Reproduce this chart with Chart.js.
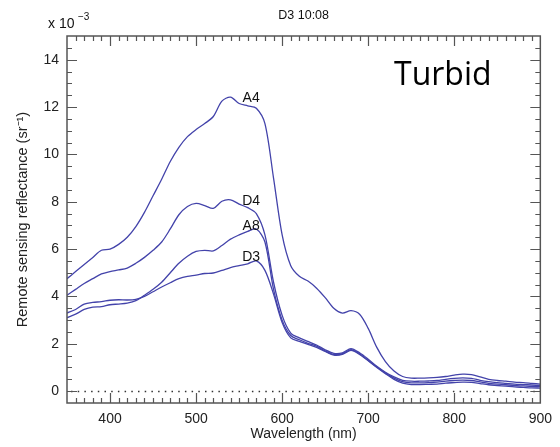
<!DOCTYPE html>
<html>
<head>
<meta charset="utf-8">
<title>D3 10:08</title>
<script src="https://cdn.jsdelivr.net/npm/chart.js@4"></script>
<style>
  html, body { margin: 0; padding: 0; background: #fff; }
  #wrap { width: 560px; height: 447px; }
</style>
</head>
<body>
<div id="wrap"><canvas id="rrsChart" width="560" height="447"></canvas></div>
<script>
// Wavelength (nm) and remote sensing reflectance (x 10^-3 sr^-1)
const wavelength = [350, 360, 370, 380, 390, 400, 410, 420, 430, 440,
                    450, 460, 470, 480, 490, 500, 510, 520, 530, 540,
                    550, 560, 570, 580, 590, 600, 610, 620, 630, 640,
                    650, 660, 670, 680, 690, 700, 710, 720, 730, 740,
                    750, 760, 770, 780, 790, 800, 810, 820, 830, 840,
                    850, 860, 870, 880, 890, 900];

const rrsA4 = [4.75, 5.05, 5.35, 5.65, 5.95, 6.0, 6.2, 6.5, 6.95, 7.55,
               8.25, 8.95, 9.7, 10.3, 10.75, 11.05, 11.3, 11.6, 12.25, 12.42,
               12.15, 12.05, 11.95, 11.3, 9.0, 6.6, 5.3, 4.85, 4.65, 4.35,
               3.95, 3.5, 3.3, 3.4, 3.25, 2.65, 1.85, 1.25, 0.85, 0.62,
               0.55, 0.55, 0.56, 0.58, 0.62, 0.68, 0.72, 0.7, 0.6, 0.5,
               0.45, 0.42, 0.38, 0.36, 0.33, 0.3];

const rrsD4 = [4.05, 4.3, 4.55, 4.75, 4.95, 5.05, 5.12, 5.2, 5.4, 5.65,
               5.95, 6.3, 6.85, 7.45, 7.8, 7.93, 7.84, 7.72, 8.02, 8.08,
               7.9, 7.75, 7.5, 6.6, 4.6, 3.2, 2.45, 2.25, 2.1, 1.95,
               1.75, 1.6, 1.62, 1.8, 1.62, 1.35, 1.05, 0.8, 0.6, 0.46,
               0.42, 0.42, 0.43, 0.45, 0.5, 0.54, 0.56, 0.54, 0.46, 0.4,
               0.36, 0.33, 0.3, 0.28, 0.26, 0.24];

const rrsA8 = [3.1, 3.25, 3.45, 3.55, 3.57, 3.65, 3.68, 3.72, 3.82, 4.05,
               4.3, 4.6, 5.0, 5.4, 5.7, 5.9, 5.95, 5.92, 6.15, 6.42,
               6.6, 6.75, 6.85, 6.3, 4.3, 3.0, 2.35, 2.17, 2.02, 1.9,
               1.7, 1.55, 1.58, 1.75, 1.58, 1.3, 1.02, 0.77, 0.55, 0.4,
               0.35, 0.35, 0.36, 0.38, 0.42, 0.45, 0.47, 0.45, 0.39, 0.33,
               0.3, 0.27, 0.24, 0.22, 0.2, 0.19];

const rrsD3 = [3.3, 3.45, 3.68, 3.75, 3.78, 3.84, 3.86, 3.85, 3.88, 4.0,
               4.2, 4.4, 4.58, 4.75, 4.85, 4.9, 4.97, 4.99, 5.1, 5.22,
               5.3, 5.38, 5.5, 5.1, 4.1, 2.9, 2.25, 2.1, 1.98, 1.85,
               1.68, 1.52, 1.55, 1.72, 1.55, 1.28, 1.0, 0.74, 0.5, 0.34,
               0.28, 0.28, 0.29, 0.3, 0.34, 0.36, 0.38, 0.37, 0.32, 0.27,
               0.24, 0.21, 0.18, 0.16, 0.14, 0.13];

const stationNames = ["A4", "D4", "A8", "D3"];
const xTicks = [400, 500, 600, 700, 800, 900];
const yTicks = [0, 2, 4, 6, 8, 10, 12, 14];

const LINE_COLOR = "#4343aa";
const AXIS_COLOR = "#555";
const FONT = "'Liberation Sans', Arial, sans-serif";

function toPoints(values) {
    return values.map((v, i) => ({ x: wavelength[i], y: v }));
}

// Box, inward ticks on all four sides, dotted zero line and the annotations
const framePlugin = {
    id: "frame",
    beforeDatasetsDraw(chart) {
        const { ctx, chartArea: a, scales: { y } } = chart;
        const y0 = Math.round(y.getPixelForValue(0)) + 0.5;
        ctx.save();
        ctx.strokeStyle = "#333";
        ctx.lineWidth = 1.3;
        ctx.setLineDash([1.5, 5.2]);
        ctx.beginPath();
        ctx.moveTo(a.left + 4, y0);
        ctx.lineTo(a.right, y0);
        ctx.stroke();
        ctx.restore();
    },
    afterDatasetsDraw(chart) {
        const { ctx, chartArea: a, scales: { x, y } } = chart;
        ctx.save();
        ctx.strokeStyle = AXIS_COLOR;
        ctx.lineWidth = 1.5;
        ctx.strokeRect(a.left, a.top, a.right - a.left, a.bottom - a.top);

        ctx.lineWidth = 1.2;
        ctx.beginPath();
        for (let w = 360; w < 900; w += 10) {
            const px = Math.round(x.getPixelForValue(w)) + 0.5;
            const len = w % 100 === 0 ? 10 : 5;
            ctx.moveTo(px, a.bottom); ctx.lineTo(px, a.bottom - len);
            ctx.moveTo(px, a.top); ctx.lineTo(px, a.top + len);
        }
        for (let k = 0; k <= 29; k++) {
            const v = k * 0.5;
            const py = Math.round(y.getPixelForValue(v)) + 0.5;
            const len = k % 4 === 0 ? 10 : 5;
            ctx.moveTo(a.left, py); ctx.lineTo(a.left + len, py);
            ctx.moveTo(a.right, py); ctx.lineTo(a.right - len, py);
        }
        ctx.stroke();

        // station labels next to the curves
        const spots = [[564, 12.39], [564, 8.01], [564, 6.95], [564, 5.66]];
        ctx.fillStyle = "#111";
        ctx.font = "14px " + FONT;
        ctx.textAlign = "center";
        ctx.textBaseline = "middle";
        stationNames.forEach((name, i) => {
            ctx.fillText(name, x.getPixelForValue(spots[i][0]), y.getPixelForValue(spots[i][1]));
        });

        // exponent note above the y axis
        ctx.textAlign = "left";
        ctx.textBaseline = "alphabetic";
        ctx.font = "14px " + FONT;
        ctx.fillText("x 10", a.left - 19, a.top - 8);
        ctx.font = "10px " + FONT;
        ctx.fillText("\u22123", a.left + 11, a.top - 16);

        // title
        ctx.font = "12.5px " + FONT;
        ctx.textAlign = "center";
        ctx.fillText("D3 10:08", (a.left + a.right) / 2, 19);

        // panel label
        ctx.font = "32px 'Open Sans', 'Noto Sans', sans-serif";
        ctx.textAlign = "left";
        ctx.fillStyle = "#000";
        ctx.fillText("Turbid", 394, 85);
        ctx.restore();
    }
};

const datasets = [rrsA4, rrsD4, rrsA8, rrsD3].map((vals, i) => ({
    label: stationNames[i],
    data: toPoints(vals),
    borderColor: LINE_COLOR,
    borderWidth: 1.3,
    pointRadius: 0,
    fill: false,
    tension: 0.3
}));

new Chart(document.getElementById("rrsChart"), {
    type: "line",
    data: { datasets: datasets },
    options: {
        responsive: false,
        devicePixelRatio: 1,
        animation: false,
        layout: { padding: { top: 36, right: 15, left: 0, bottom: 0 } },
        plugins: {
            legend: { display: false },
            tooltip: { enabled: false },
            title: { display: false }
        },
        scales: {
            x: {
                type: "linear",
                min: 350,
                max: 900,
                afterBuildTicks: s => { s.ticks = xTicks.map(v => ({ value: v })); },
                afterFit: s => { s.height = 44; },
                grid: { display: false, drawTicks: false },
                border: { display: false },
                ticks: { color: "#222", padding: 8, font: { family: FONT, size: 14 } },
                title: {
                    display: true,
                    text: "Wavelength (nm)",
                    color: "#222",
                    font: { family: FONT, size: 14 },
                    padding: { top: 0, bottom: 4 }
                }
            },
            y: {
                min: -0.5,
                max: 15,
                afterBuildTicks: s => { s.ticks = yTicks.map(v => ({ value: v })); },
                afterFit: s => { s.width = 67; },
                grid: { display: false, drawTicks: false },
                border: { display: false },
                ticks: { color: "#222", padding: 8, font: { family: FONT, size: 14 } },
                title: {
                    display: true,
                    text: "Remote sensing reflectance (sr\u207B\u00B9)",
                    color: "#222",
                    font: { family: FONT, size: 14.5 },
                    padding: { top: 14, bottom: 0 }
                }
            }
        }
    },
    plugins: [framePlugin]
});
</script>
</body>
</html>
